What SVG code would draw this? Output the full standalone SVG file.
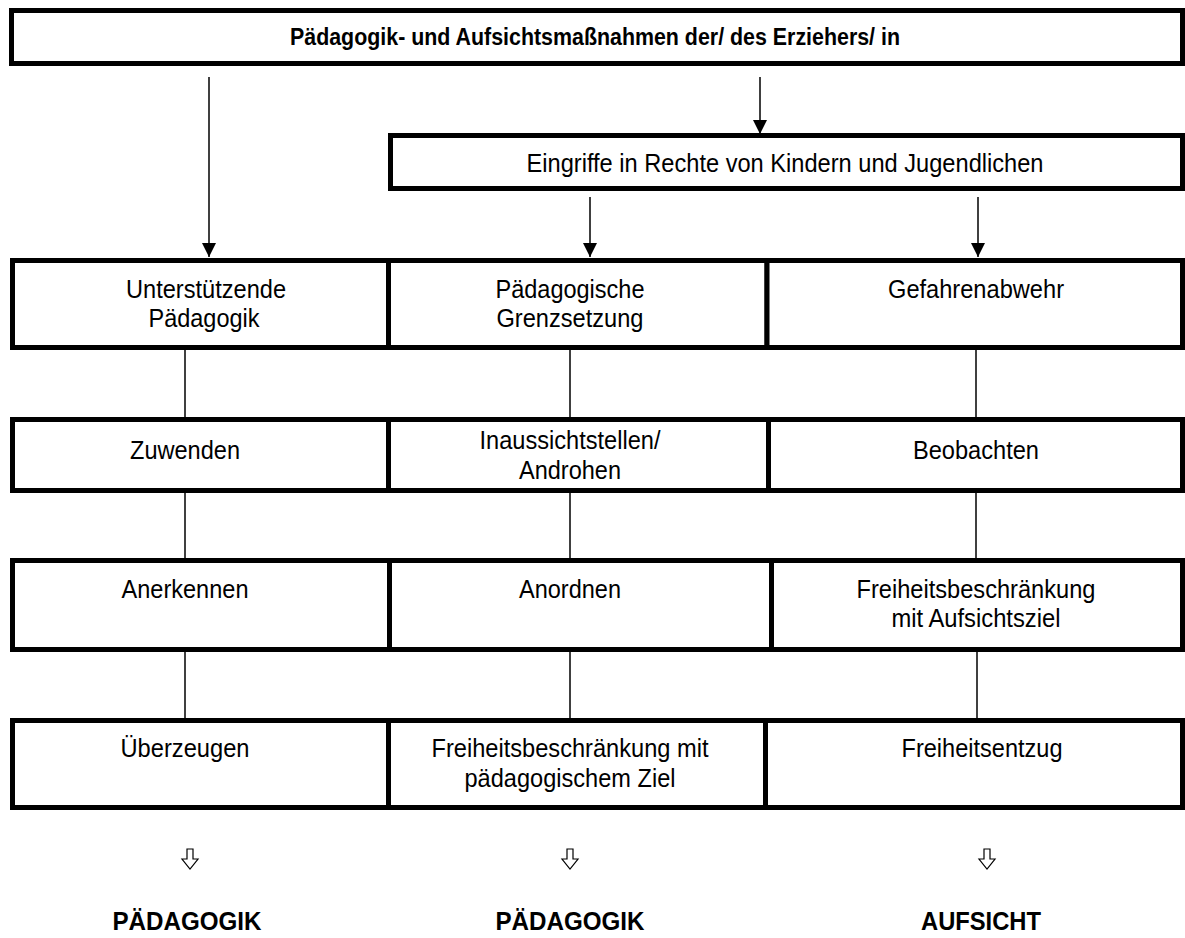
<svg xmlns="http://www.w3.org/2000/svg" width="1185" height="938" viewBox="0 0 1185 938">
<style>
  .box { fill: #fff; stroke: #000; stroke-width: 5; }
  .t { font-family: "Liberation Sans", Arial, sans-serif; font-size: 26px; fill: #000; text-anchor: middle; }
  .b { font-family: "Liberation Sans", Arial, sans-serif; font-size: 23px; font-weight: bold; fill: #000; text-anchor: middle; }
  .lbl { font-family: "Liberation Sans", Arial, sans-serif; font-size: 26px; font-weight: bold; fill: #000; text-anchor: middle; }
  .sym { fill: #fff; stroke: #000; stroke-width: 1.2; stroke-linejoin: miter; }
  .ln { stroke: #000; stroke-width: 1.5; fill: none; }
  .ar { stroke: #000; stroke-width: 1.5; fill: none; marker-end: url(#ah); }
</style>
<defs>
  <marker id="ah" markerUnits="userSpaceOnUse" markerWidth="14" markerHeight="15" refX="14" refY="7" orient="auto" viewBox="0 0 14 14">
    <path d="M0,0 L14,7 L0,14 z" fill="#000"/>
  </marker>
  <path id="hollow" d="M-3,0 L3,0 L3,10 L8,10 L0,20 L-8,10 L-3,10 Z"/>
</defs>
<rect width="1185" height="938" fill="#fff"/>

<g id="connectors">
  <line class="ar" x1="209" y1="77" x2="209" y2="257"/>
  <line class="ar" x1="760" y1="77" x2="760" y2="134"/>
  <line class="ar" x1="590" y1="197" x2="590" y2="257"/>
  <line class="ar" x1="978" y1="197" x2="978" y2="257"/>
  <line class="ln" x1="185" y1="350" x2="185" y2="417"/>
  <line class="ln" x1="570" y1="350" x2="570" y2="417"/>
  <line class="ln" x1="976" y1="350" x2="976" y2="417"/>
  <line class="ln" x1="185" y1="493" x2="185" y2="558"/>
  <line class="ln" x1="570" y1="493" x2="570" y2="558"/>
  <line class="ln" x1="976" y1="493" x2="976" y2="558"/>
  <line class="ln" x1="185" y1="652" x2="185" y2="718"/>
  <line class="ln" x1="570" y1="652" x2="570" y2="718"/>
  <line class="ln" x1="977" y1="652" x2="977" y2="718"/>
  <use href="#hollow" class="sym" x="190" y="849"/>
  <use href="#hollow" class="sym" x="570" y="849"/>
  <use href="#hollow" class="sym" x="987" y="849"/>
</g>

<g id="n-top">
  <rect class="box" x="11.5" y="10.5" width="1171" height="53"/>
  <text class="b" x="595" y="45" textLength="610" lengthAdjust="spacingAndGlyphs">Pädagogik- und Aufsichtsmaßnahmen der/ des Erziehers/ in</text>
</g>
<g id="n-eingriffe">
  <rect class="box" x="390.5" y="135.5" width="792" height="53"/>
  <text class="t" x="785" y="172" textLength="517" lengthAdjust="spacingAndGlyphs">Eingriffe in Rechte von Kindern und Jugendlichen</text>
</g>

<g id="n-r1c1"><rect class="box" x="12.5" y="260.5" width="376" height="87"/>
  <text class="t" x="206" y="298" textLength="160" lengthAdjust="spacingAndGlyphs">Unterstützende</text><text class="t" x="204" y="327" textLength="111" lengthAdjust="spacingAndGlyphs">Pädagogik</text></g>
<g id="n-r1c2"><rect class="box" x="388.5" y="260.5" width="378.5" height="87"/>
  <text class="t" x="570" y="298" textLength="149" lengthAdjust="spacingAndGlyphs">Pädagogische</text><text class="t" x="570" y="327" textLength="147" lengthAdjust="spacingAndGlyphs">Grenzsetzung</text></g>
<g id="n-r1c3"><rect class="box" x="767" y="260.5" width="415.5" height="87"/>
  <text class="t" x="976" y="298" textLength="176" lengthAdjust="spacingAndGlyphs">Gefahrenabwehr</text></g>

<g id="n-r2c1"><rect class="box" x="12.5" y="419.5" width="376" height="71"/>
  <text class="t" x="185" y="459" textLength="110" lengthAdjust="spacingAndGlyphs">Zuwenden</text></g>
<g id="n-r2c2"><rect class="box" x="388.5" y="419.5" width="380" height="71"/>
  <text class="t" x="570" y="449" textLength="181" lengthAdjust="spacingAndGlyphs">Inaussichtstellen/</text><text class="t" x="570" y="479" textLength="102" lengthAdjust="spacingAndGlyphs">Androhen</text></g>
<g id="n-r2c3"><rect class="box" x="768.5" y="419.5" width="414" height="71"/>
  <text class="t" x="976" y="459" textLength="126" lengthAdjust="spacingAndGlyphs">Beobachten</text></g>

<g id="n-r3c1"><rect class="box" x="12.5" y="560.5" width="377" height="89"/>
  <text class="t" x="185" y="598" textLength="127" lengthAdjust="spacingAndGlyphs">Anerkennen</text></g>
<g id="n-r3c2"><rect class="box" x="389.5" y="560.5" width="382" height="89"/>
  <text class="t" x="570" y="598" textLength="102" lengthAdjust="spacingAndGlyphs">Anordnen</text></g>
<g id="n-r3c3"><rect class="box" x="771.5" y="560.5" width="411" height="89"/>
  <text class="t" x="976" y="598" textLength="239" lengthAdjust="spacingAndGlyphs">Freiheitsbeschränkung</text><text class="t" x="976" y="627" textLength="169" lengthAdjust="spacingAndGlyphs">mit Aufsichtsziel</text></g>

<g id="n-r4c1"><rect class="box" x="12.5" y="720.5" width="376" height="87"/>
  <text class="t" x="185" y="757" textLength="129" lengthAdjust="spacingAndGlyphs">Überzeugen</text></g>
<g id="n-r4c2"><rect class="box" x="388.5" y="720.5" width="377" height="87"/>
  <text class="t" x="570" y="757" textLength="277" lengthAdjust="spacingAndGlyphs">Freiheitsbeschränkung mit</text><text class="t" x="570" y="787" textLength="211" lengthAdjust="spacingAndGlyphs">pädagogischem Ziel</text></g>
<g id="n-r4c3"><rect class="box" x="765.5" y="720.5" width="417" height="87"/>
  <text class="t" x="982" y="757" textLength="161" lengthAdjust="spacingAndGlyphs">Freiheitsentzug</text></g>

<g id="n-out1"><text class="lbl" x="187" y="930" textLength="149" lengthAdjust="spacingAndGlyphs">PÄDAGOGIK</text></g>
<g id="n-out2"><text class="lbl" x="570" y="930" textLength="149" lengthAdjust="spacingAndGlyphs">PÄDAGOGIK</text></g>
<g id="n-out3"><text class="lbl" x="981" y="930" textLength="120" lengthAdjust="spacingAndGlyphs">AUFSICHT</text></g>
</svg>
